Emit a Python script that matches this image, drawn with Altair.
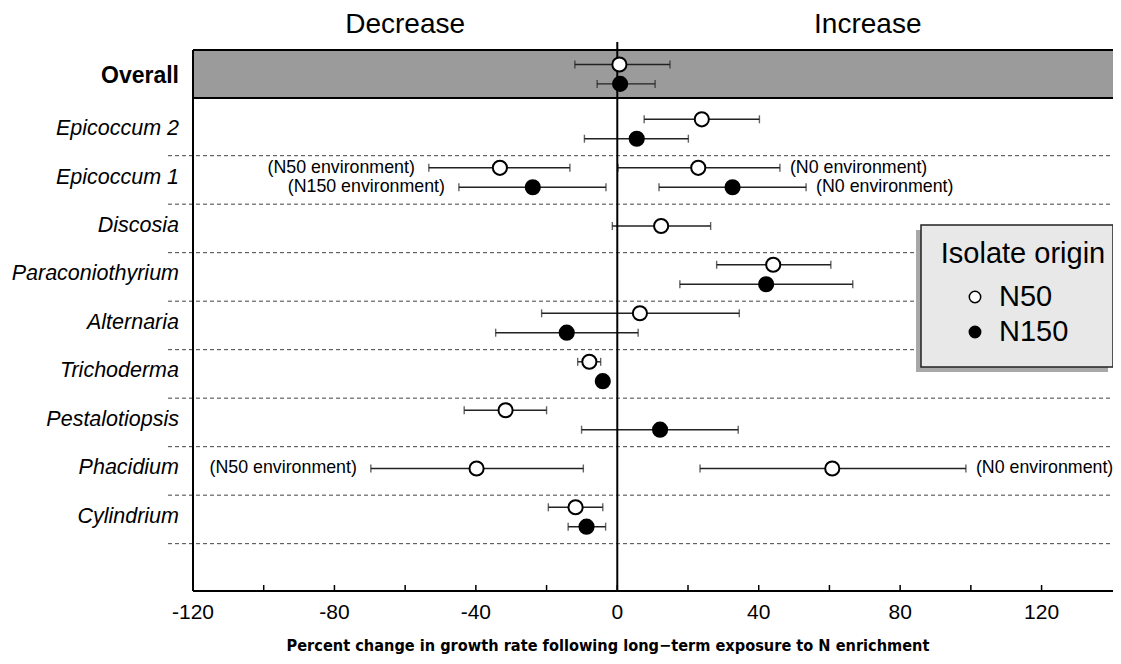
import altair as alt
import numpy as np
import pandas as pd

# ---------------- data ----------------
rows = ["Overall", "Epicoccum 2", "Epicoccum 1", "Discosia", "Paraconiothyrium",
        "Alternaria", "Trichoderma", "Pestalotiopsis", "Phacidium", "Cylindrium"]
origins = ["N50", "N150"]

pt_row = ["Overall", "Overall", "Epicoccum 2", "Epicoccum 2",
          "Epicoccum 1", "Epicoccum 1", "Epicoccum 1", "Epicoccum 1",
          "Discosia", "Paraconiothyrium", "Paraconiothyrium",
          "Alternaria", "Alternaria", "Trichoderma", "Trichoderma",
          "Pestalotiopsis", "Pestalotiopsis", "Phacidium", "Phacidium",
          "Cylindrium", "Cylindrium"]
pt_origin = ["N50", "N150", "N50", "N150",
             "N50", "N50", "N150", "N150",
             "N50", "N50", "N150",
             "N50", "N150", "N50", "N150",
             "N50", "N150", "N50", "N50",
             "N50", "N150"]
pt_mean = [0.6, 0.8, 23.9, 5.5,
           -33.2, 22.9, -23.9, 32.6,
           12.4, 44.1, 42.1,
           6.4, -14.3, -7.9, -4.1,
           -31.6, 12.1, -39.8, 60.8,
           -11.8, -8.7]
pt_lo = [-12.0, -5.7, 7.6, -9.3,
         -53.3, 0.2, -44.8, 11.8,
         -1.4, 28.1, 17.7,
         -21.4, -34.4, -11.2, -5.6,
         -43.3, -10.1, -69.7, 23.4,
         -19.5, -13.9]
pt_hi = [14.9, 10.7, 40.2, 20.1,
         -13.4, 46.0, -3.2, 53.4,
         26.4, 60.4, 66.6,
         34.5, 5.9, -4.7, -2.6,
         -20.0, 34.2, -9.6, 98.6,
         -4.1, -3.3]
pt_note = ["", "", "", "",
           "(N50 environment)", "(N0 environment)", "(N150 environment)", "(N0 environment)",
           "", "", "",
           "", "", "", "",
           "", "", "(N50 environment)", "(N0 environment)",
           "", ""]

header_labels = ["Decrease", "Increase"]
tick_values = list(range(-120, 121, 20))
label_values = list(range(-120, 121, 40))
x_title = "Percent change in growth rate following long\u2212term exposure to N enrichment"
legend_title = "Isolate origin"

# ---------------- layout ----------------
W, H = 920, 541
X_MIN, X_MAX = -120, 140.2
Y_TOP, Y_BOT = -0.629, 10.526
BOX_BOT = 0.361
OVERALL_POS = -0.13
PAIR_OFF = 0.2
FONT = "Liberation Sans, Arial, Helvetica, sans-serif"
NARROW = "Liberation Sans Narrow, Arial Narrow, DejaVu Sans Condensed, sans-serif"

row_pos = {r: (float(i) if i > 0 else OVERALL_POS) for i, r in enumerate(rows)}

df = pd.DataFrame({"row": pt_row, "origin": pt_origin, "mean": pt_mean,
                   "lo": pt_lo, "hi": pt_hi, "note": pt_note})
both = df.groupby("row")["origin"].transform(lambda s: s.nunique() > 1)
off = np.where(both, np.where(df["origin"] == "N50", -PAIR_OFF, PAIR_OFF), 0.0)
df["pos"] = df["row"].map(row_pos) + off

rows_df = pd.DataFrame({"row": rows, "pos": [row_pos[r] for r in rows]})
sep_df = pd.DataFrame({"pos": [1.55 + k for k in range(len(rows) - 1)]})
head_df = pd.DataFrame({"label": header_labels, "x": [X_MIN / 2, 141.7 / 2]})
tick_df = pd.DataFrame({"t": tick_values})
lab_df = pd.DataFrame({"t": label_values})
one = pd.DataFrame({"a": [0]})

xs = alt.Scale(domain=[X_MIN, X_MAX], nice=False, zero=False)
ys = alt.Scale(domain=[Y_TOP, Y_BOT], nice=False, zero=False, reverse=True)

# gray "Overall" band
band = alt.Chart(one).mark_rect(fill="#9b9b9b").encode(
    x=alt.X(datum=X_MIN, scale=xs, axis=None), x2=alt.X2(datum=X_MAX),
    y=alt.Y(datum=Y_TOP, scale=ys, axis=None), y2=alt.Y2(datum=BOX_BOT))
band_lines = alt.Chart(pd.DataFrame({"pos": [Y_TOP, BOX_BOT]})).mark_rule(
    color="black", strokeWidth=2).encode(
    y=alt.Y("pos:Q", scale=ys, axis=None), x=alt.value(0), x2=alt.value(W))

seps = alt.Chart(sep_df).mark_rule(color="#444444", strokeWidth=1,
                                   strokeDash=[4, 3]).encode(
    y=alt.Y("pos:Q", scale=ys, axis=None), x=alt.value(-25), x2=alt.value(W))

zero_line = alt.Chart(one).mark_rule(color="black", strokeWidth=2).encode(
    x=alt.X(datum=0, scale=xs, axis=None), y=alt.value(-8), y2=alt.value(H))
left_line = alt.Chart(one).mark_rule(color="black", strokeWidth=2).encode(
    x=alt.value(0), y=alt.value(0), y2=alt.value(H))
bottom_line = alt.Chart(one).mark_rule(color="black", strokeWidth=2).encode(
    x=alt.value(0), x2=alt.value(W), y=alt.value(H))

ticks = alt.Chart(tick_df).mark_rule(color="black", strokeWidth=1.5).encode(
    x=alt.X("t:Q", scale=xs, axis=None), y=alt.value(H - 6), y2=alt.value(H))
tick_labels = alt.Chart(lab_df).transform_calculate(
    lab="'' + datum.t").mark_text(
    align="center", baseline="middle", font=FONT, fontSize=21, color="black").encode(
    x=alt.X("t:Q", scale=xs, axis=None), y=alt.value(H + 22), text="lab:N")
x_title_mark = alt.Chart(pd.DataFrame({"t": [x_title]})).mark_text(
    align="center", baseline="middle", font=NARROW, fontSize=16.2, fontWeight="bold",
    color="black").encode(x=alt.value(415), y=alt.value(H + 55), text="t:N")

bars = alt.Chart(df).mark_rule(color="#222222", strokeWidth=1.4).encode(
    x=alt.X("lo:Q", scale=xs, axis=None), x2="hi:Q",
    y=alt.Y("pos:Q", scale=ys, axis=None))

caps = alt.Chart(df).transform_fold(["lo", "hi"], as_=["end", "val"]).mark_tick(
    orient="vertical", size=8, thickness=1.4, color="#222222").encode(
    x=alt.X("val:Q", scale=xs, axis=None),
    y=alt.Y("pos:Q", scale=ys, axis=None))

points = alt.Chart(df).mark_point(filled=False, size=200, strokeWidth=2,
                                  stroke="black", opacity=1, shape="circle").encode(
    x=alt.X("mean:Q", scale=xs, axis=None),
    y=alt.Y("pos:Q", scale=ys, axis=None),
    fill=alt.Fill("origin:N", scale=alt.Scale(domain=origins, range=["white", "black"]),
                  legend=None))

notes_left = alt.Chart(df).transform_filter(
    "datum.note != '' && datum.mean < 0").mark_text(
    align="right", baseline="middle", dx=-14, font=FONT, fontSize=17.8, color="black").encode(
    x=alt.X("lo:Q", scale=xs, axis=None), y=alt.Y("pos:Q", scale=ys, axis=None),
    text="note:N")
notes_right = alt.Chart(df).transform_filter(
    "datum.note != '' && datum.mean >= 0").mark_text(
    align="left", baseline="middle", dx=10, font=FONT, fontSize=17.8, color="black").encode(
    x=alt.X("hi:Q", scale=xs, axis=None), y=alt.Y("pos:Q", scale=ys, axis=None),
    text="note:N")

row_overall = alt.Chart(rows_df).transform_filter("datum.row == 'Overall'").mark_text(
    align="right", baseline="middle", dy=2, font=FONT, fontSize=23, fontWeight="bold",
    color="black").encode(
    x=alt.value(-14), y=alt.Y("pos:Q", scale=ys, axis=None), text="row:N")
row_labels = alt.Chart(rows_df).transform_filter("datum.row != 'Overall'").mark_text(
    align="right", baseline="middle", font=FONT, fontSize=21.5, fontStyle="italic",
    color="black").encode(
    x=alt.value(-14), y=alt.Y("pos:Q", scale=ys, axis=None), text="row:N")

headers = alt.Chart(head_df).mark_text(
    align="center", baseline="middle", font=FONT, fontSize=28, color="black").encode(
    x=alt.X("x:Q", scale=xs, axis=None), y=alt.value(-25), text="label:N")

# legend (drawn box with shadow)
LX0, LX1, LY0, LY1 = 728, 920, 175, 317
leg_layers = [
    alt.Chart(one).mark_rect(fill="#a8a8a8").encode(
        x=alt.value(LX0 - 5), x2=alt.value(LX1 - 5), y=alt.value(LY0 + 5), y2=alt.value(LY1 + 5)),
    alt.Chart(one).mark_rect(fill="#e8e8e8", stroke="#222222", strokeWidth=1.5).encode(
        x=alt.value(LX0), x2=alt.value(LX1), y=alt.value(LY0), y2=alt.value(LY1)),
    alt.Chart(pd.DataFrame({"t": [legend_title]})).mark_text(
        align="center", baseline="middle", font=FONT, fontSize=29, color="black").encode(
        x=alt.value(LX0 + 102), y=alt.value(LY0 + 29), text="t:N"),
]
for i, o in enumerate(origins):
    ly = LY0 + 72 + 35 * i
    leg_layers.append(
        alt.Chart(pd.DataFrame({"origin": [o]})).mark_point(
            shape="circle", size=130, strokeWidth=1.5, stroke="black", opacity=1,
            fill="white" if i == 0 else "black").encode(
            x=alt.value(LX0 + 54), y=alt.value(ly)))
    leg_layers.append(
        alt.Chart(pd.DataFrame({"origin": [o]})).mark_text(
            align="left", baseline="middle", font=FONT, fontSize=29, color="black").encode(
            x=alt.value(LX0 + 78), y=alt.value(ly), text="origin:N"))

chart = alt.layer(
    band, seps, band_lines, bars, caps, zero_line, left_line, bottom_line, ticks,
    tick_labels, x_title_mark, points,
    notes_left, notes_right, row_overall, row_labels, headers, *leg_layers
).properties(
    width=W, height=H,
    autosize=alt.AutoSizeParams(type="none"),
    padding={"left": 185, "top": 42, "right": 0, "bottom": 65},
).configure_view(stroke=None).configure(background="white")

chart.save("out.html", embed_options={"renderer": "svg", "actions": False})
